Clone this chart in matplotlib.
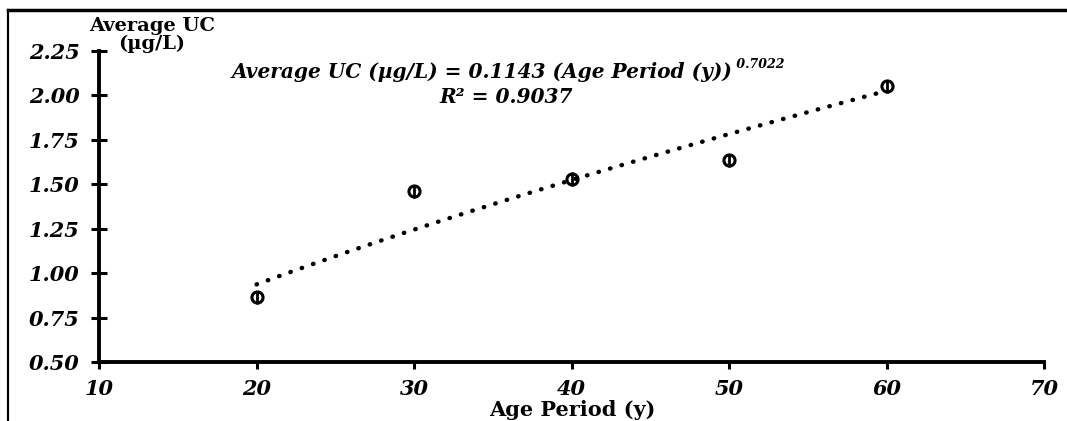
import numpy as np
import matplotlib
matplotlib.use('Agg')
import matplotlib.pyplot as plt
from matplotlib.lines import Line2D

# datos
edad = [20, 30, 40, 50, 60]
uc_medio = [0.865, 1.46, 1.53, 1.635, 2.05]
uc_err = [0.037, 0.037, 0.037, 0.037, 0.037]

# ajuste potencial mostrado en el grafico
coef_a = 0.1143
coef_b = 0.7022
r2 = 0.9037

x_ticks = [10, 20, 30, 40, 50, 60, 70]
y_ticks = [0.50, 0.75, 1.00, 1.25, 1.50, 1.75, 2.00, 2.25]

FUENTE = 'DejaVu Serif'

fig = plt.figure(figsize=(10.67, 4.21), dpi=100)
ax = fig.add_axes([0.0928, 0.140, 0.886, 0.739])

ax.errorbar(edad, uc_medio, yerr=uc_err, fmt='o', color='black', ecolor='black',
            elinewidth=2.0, capsize=0, markersize=8, markerfacecolor='none',
            markeredgewidth=2.2, zorder=3)

x_fit = np.linspace(min(edad), max(edad), 200)
y_fit = coef_a * x_fit ** coef_b
ax.plot(x_fit, y_fit, color='black', linewidth=3.2, linestyle=(0, (0.1, 2.6)),
        dash_capstyle='round', zorder=2)

ax.set_xlim(10, 70)
ax.set_ylim(0.5, 2.25)
ax.set_xticks(x_ticks)
ax.set_yticks(y_ticks)
ax.set_xticklabels([str(v) for v in x_ticks], fontfamily=FUENTE, fontweight='bold',
                   fontstyle='italic', fontsize=15)
ax.set_yticklabels([f'{v:.2f}' for v in y_ticks], fontfamily=FUENTE, fontweight='bold',
                   fontstyle='italic', fontsize=15)

for s in ['top', 'right']:
    ax.spines[s].set_visible(False)
for s in ['left', 'bottom']:
    ax.spines[s].set_linewidth(2.8)
ax.tick_params(axis='y', direction='inout', length=12, width=2.2, pad=8)
ax.tick_params(axis='x', direction='out', length=5, width=2.2, pad=7)

# titulos de ejes
fig.text(152 / 1067, 1 - 35 / 421, 'Average UC\n(µg/L)', ha='center', va='center',
         fontfamily=FUENTE, fontweight='bold', fontsize=14, linespacing=1.05)
fig.text(572 / 1067, 1 - 410 / 421, 'Age Period (y)', ha='center', va='center',
         fontfamily=FUENTE, fontweight='bold', fontsize=15)

# ecuacion del ajuste
t1 = fig.text(0, 1 - 72 / 421, f'Average UC (µg/L) = {coef_a} (Age Period (y))',
              ha='left', va='center', fontfamily=FUENTE, fontweight='bold',
              fontstyle='italic', fontsize=14.5)
t_sup = fig.text(0, 1 - 64 / 421, f' {coef_b}', ha='left', va='center',
                 fontfamily=FUENTE, fontweight='bold', fontstyle='italic', fontsize=9)
fig.canvas.draw()
r = fig.canvas.get_renderer()
w1 = t1.get_window_extent(r).width
w2 = t_sup.get_window_extent(r).width
x_ini = 508 - (w1 + w2) / 2
t1.set_x(x_ini / 1067)
t_sup.set_x((x_ini + w1) / 1067)
fig.text(506 / 1067, 1 - 97 / 421, f'R² = {r2}', ha='center', va='center',
         fontfamily=FUENTE, fontweight='bold', fontstyle='italic', fontsize=14.5)

# marco exterior (solo arriba e izquierda)
fig.add_artist(Line2D([8 / 1067, 1], [1 - 10 / 421, 1 - 10 / 421], color='black',
                      linewidth=2.5, transform=fig.transFigure))
fig.add_artist(Line2D([8 / 1067, 8 / 1067], [0, 1 - 10 / 421], color='black',
                      linewidth=1.6, transform=fig.transFigure))

fig.savefig('out.png', dpi=100)
